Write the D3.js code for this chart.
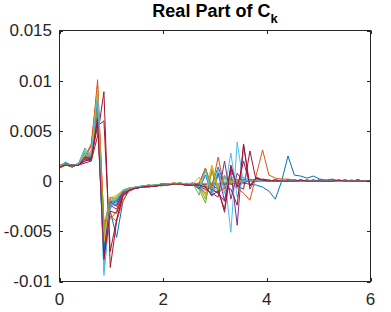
<!DOCTYPE html>
<html>
<head>
  <meta charset="utf-8">
  <title>Real Part of Ck</title>
  <script src="https://d3js.org/d3.v7.min.js"></script>
  <style>
    body { margin: 0; background: #fff; }
    svg { display: block; font-family: "Liberation Sans", Arial, sans-serif; }
    .tick-label { font-size: 17px; fill: #262626; }
    .title { font-size: 18px; font-weight: bold; fill: #000; }
    .trace { fill: none; stroke-width: 1; stroke-linejoin: round; }
  </style>
</head>
<body>
  <svg width="391" height="312"></svg>
  <script>
    // values are in units of 1e-4, sampled on linspace(0, 6, 50)
    const UNIT = 1e-4;
    const xStart = 0, xEnd = 6, nSamples = 50;

    const xTicks = [0, 2, 4, 6];
    const xTickLabels = ["0", "2", "4", "6"];
    const yTicks = [-0.01, -0.005, 0, 0.005, 0.01, 0.015];
    const yTickLabels = ["-0.01", "-0.005", "0", "0.005", "0.01", "0.015"];

    const colors = ["#0072BD", "#D95319", "#EDB120", "#7E2F8E", "#77AC30", "#4DBEEE", "#A2142F"];

    const s01 = [14,18,15,16,22,20,70,-60, -30,-56,-20,-8,-7,-5,-6,-4,-4,-3,-3,-2,-3, -3,-3,-4,-3,-3,-2,-3,-2,-2,-3,-4,-6,-10,-18,0, 25,6,5,3,5,2,1,2,0,1,0,1,0,0];
    const s02 = [16,17,14,18,22,30,101,-45, -25,-18,-9,-7,-6,-6,-4,-5,-3,-3,-2,-3,-3, -3,-2,-3,-2,-3,-3,-3,-7,-12,-19,6,31,6,3,2, 2,1,0,1,0,1,1,0,1,0,0,1,0,0];
    const s03 = [15,16,15,17,25,22,75,-50, -20,-15,-10,-8,-6,-5,-5,-4,-4,-3,-3,-2,-3, -3,-6,-14,8,-6,3,-2,1,0,1,0,0,1,0,0, 1,0,0,1,0,0,1,0,0,0,1,0,0,0];
    const s04 = [14,17,16,16,23,24,65,-80, -22,-25,-12,-9,-7,-6,-6,-5,-4,-4,-3,-3,-4, -4,-5,-3,-8,-12,-20,10,-44,36,-8,4,1,0,1,0, 1,0,0,1,0,0,0,1,0,0,0,1,0,0];
    const s05 = [16,18,15,17,33,24,70,-55, -18,-20,-10,-7,-7,-5,-6,-4,-5,-3,-3,-3,-3, -4,-8,-22,10,-5,6,-2,1,0,1,0,0,1,0,0, 0,1,0,0,1,0,0,0,1,0,0,0,0,0];
    const s06 = [15,19,14,18,32,26,85,-94, -28,-16,-9,-8,-6,-5,-5,-4,-4,-3,-2,-3,-3, -3,-4,-2,-6,-10,5,-51,39,-3,2,1,0,1,0,0, 1,0,0,0,1,0,0,0,1,0,0,0,0,0];
    const s07 = [13,16,15,16,18,20,45,89, -86,-40,-15,-10,-7,-6,-5,-5,-4,-3,-3,-3,-4, -3,-4,-6,-4,-8,-31,12,-5,-8,30,0,2,1,0,1, 0,0,1,0,0,0,1,0,0,0,0,1,0,0];
    const s08 = [16,17,16,17,26,25,90,-75, -20,-22,-10,-8,-6,-6,-4,-5,-3,-3,-2,-3,-3, -2,-6,-12,-4,14,-4,2,-2,1,0,1,0,0,1,0, 0,1,0,0,1,0,0,0,0,1,0,0,0,0];
    const s09 = [15,18,14,17,24,37,95,-60, -35,-40,-20,-9,-7,-6,-5,-5,-4,-3,-3,-3,-3, -3,-2,13,-10,8,-3,-2,2,0,1,2,1,0,1,0, 1,1,0,1,0,0,1,0,0,1,0,0,0,0];
    const s10 = [14,16,16,17,24,28,88,-65, -17,-14,-9,-7,-6,-5,-5,-4,-4,-3,-2,-2,-3, -3,-2,-10,15,-8,4,-1,1,0,0,1,0,0,0,1, 0,0,1,0,0,0,1,0,0,0,0,0,0,0];
    const s11 = [16,17,15,17,22,23,60,-70, -24,-28,-12,-9,-7,-6,-5,-5,-4,-3,-3,-3,-4, -4,-6,-5,-15,8,-20,14,-6,2,0,1,0,0,1,0, 0,0,1,0,0,0,0,1,0,0,0,0,0,0];
    const s12 = [15,17,15,16,30,22,68,-50, -16,-18,-9,-7,-6,-5,-4,-5,-3,-3,-2,-3,-3, -3,-5,-18,12,-10,4,-1,1,0,1,0,0,0,1,0, 0,1,0,0,0,1,0,0,0,0,1,0,0,0];
    const s13 = [14,18,15,18,28,25,78,-85, -22,-18,-10,-8,-6,-6,-5,-4,-4,-3,-3,-2,-3, -3,-4,-5,-3,-6,-12,28,-16,4,1,0,1,0,0,1, 0,0,0,1,0,0,1,0,0,0,1,0,0,0];
    const s14 = [15,16,14,17,20,22,55,60, -70,-38,-14,-9,-7,-6,-5,-5,-4,-3,-3,-3,-3, -3,-4,-6,-8,-12,-6,-8,-24,37,-5,3,1,0,1,0, 0,1,0,0,0,1,0,0,0,0,0,1,0,0];
    const s15 = [15,17,15,16,24,24,82,-68, -20,-20,-10,-8,-6,-5,-5,-4,-3,-3,-3,-2,-3, -2,-8,6,-12,8,-4,1,0,1,0,0,1,0,0,0, 1,0,0,0,1,0,0,0,0,1,0,0,0,0];
    const s16 = [14,16,15,17,23,35,92,-40, -38,-30,-13,-9,-7,-6,-5,-4,-4,-3,-3,-3,-3, -2,-3,13,-6,24,-8,3,-2,1,0,1,1,0,1,0, 1,0,1,0,0,1,0,0,1,0,0,0,0,0];
    const s17 = [16,17,15,17,26,27,92,-60, -19,-16,-9,-7,-6,-6,-5,-4,-4,-3,-2,-3,-3, -3,4,-15,16,-5,2,0,1,0,0,1,0,0,0,0, 1,0,0,0,0,1,0,0,0,0,0,0,0,0];
    const s18 = [15,18,16,16,24,22,70,-75, -21,-24,-11,-8,-7,-6,-5,-5,-4,-3,-3,-3,-3, -3,-6,-8,-12,-16,20,-18,8,-2,1,0,1,0,0,0, 1,0,0,0,0,1,0,0,0,0,0,0,0,0];
    const s19 = [15,17,14,18,28,24,72,-45, -16,-19,-9,-7,-6,-5,-4,-4,-3,-3,-3,-2,-3, -2,-14,12,-8,4,-2,1,0,0,1,0,0,0,1,0, 0,0,1,0,0,0,0,1,0,0,0,0,0,0];
    const s20 = [15,19,15,17,30,26,86,-90, -24,-17,-10,-8,-6,-5,-5,-4,-4,-3,-3,-3,-2, -3,-6,10,-14,12,-12,6,-3,1,0,1,0,0,1,0, 0,1,0,0,0,0,1,0,0,0,0,0,0,0];
    const s21 = [14,16,15,16,20,22,62,-78, -30,-32,-14,-9,-7,-6,-5,-5,-4,-4,-3,-3,-4, -4,-4,-6,-14,-10,-28,16,-6,20,-4,3,1,0,1,0, 0,0,1,0,0,0,0,0,1,0,0,0,0,0];

    const series = [s01,s02,s03,s04,s05,s06,s07,s08,s09,s10,s11,s12,s13,s14,s15,s16,s17,s18,s19,s20,s21];

    const xs = d3.range(nSamples).map(i => xStart + i * (xEnd - xStart) / (nSamples - 1));

    const svg = d3.select("svg");
    const plotLeft = 59.5, plotRight = 370.5, plotTop = 30.5, plotBottom = 281.5;
    const tickLen = 3.5;
    const axisColor = "#262626";

    const x = d3.scaleLinear().domain([0, 6]).range([plotLeft, plotRight]);
    const y = d3.scaleLinear().domain([-0.01, 0.015]).range([plotBottom, plotTop]);

    svg.append("defs").append("clipPath").attr("id", "plot")
      .append("rect")
      .attr("x", plotLeft).attr("y", plotTop)
      .attr("width", plotRight - plotLeft).attr("height", plotBottom - plotTop);

    const line = d3.line()
      .x((d, i) => x(xs[i]))
      .y(d => y(d * UNIT));

    svg.append("g")
      .attr("clip-path", "url(#plot)")
      .selectAll("path")
      .data(series)
      .join("path")
      .attr("class", "trace")
      .attr("stroke", (d, i) => colors[i % colors.length])
      .attr("d", line);

    // box
    svg.append("rect")
      .attr("x", plotLeft).attr("y", plotTop)
      .attr("width", plotRight - plotLeft).attr("height", plotBottom - plotTop)
      .attr("fill", "none")
      .attr("stroke", axisColor)
      .attr("stroke-width", 1);

    // ticks, pointing inward on all four sides
    const ticks = svg.append("g").attr("stroke", axisColor).attr("stroke-width", 1);
    xTicks.forEach(t => {
      const px = Math.round(x(t)) + 0.5;
      ticks.append("line").attr("x1", px).attr("x2", px).attr("y1", plotBottom).attr("y2", plotBottom - tickLen);
      ticks.append("line").attr("x1", px).attr("x2", px).attr("y1", plotTop).attr("y2", plotTop + tickLen);
    });
    yTicks.forEach(t => {
      const py = Math.round(y(t)) + 0.5;
      ticks.append("line").attr("x1", plotLeft).attr("x2", plotLeft + tickLen).attr("y1", py).attr("y2", py);
      ticks.append("line").attr("x1", plotRight).attr("x2", plotRight - tickLen).attr("y1", py).attr("y2", py);
    });

    svg.append("g").selectAll("text")
      .data(xTicks)
      .join("text")
      .attr("class", "tick-label")
      .attr("x", d => x(d))
      .attr("y", 305)
      .attr("text-anchor", "middle")
      .text((d, i) => xTickLabels[i]);

    svg.append("g").selectAll("text")
      .data(yTicks)
      .join("text")
      .attr("class", "tick-label")
      .attr("x", 52)
      .attr("y", d => y(d))
      .attr("dy", "0.35em")
      .attr("text-anchor", "end")
      .text((d, i) => yTickLabels[i]);

    const title = svg.append("text")
      .attr("class", "title")
      .attr("x", (plotLeft + plotRight) / 2)
      .attr("y", 17)
      .attr("text-anchor", "middle");
    title.append("tspan").text("Real Part of C");
    title.append("tspan").attr("dy", 6).style("font-size", "13px").text("k");
  </script>
</body>
</html>
